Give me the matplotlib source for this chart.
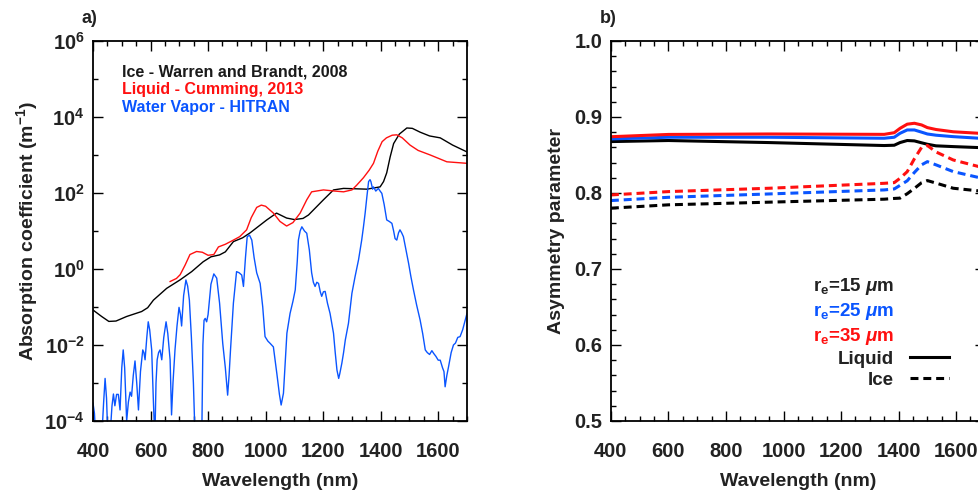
import numpy as np
import matplotlib
matplotlib.use('Agg')
import matplotlib.pyplot as plt
from matplotlib.lines import Line2D
from matplotlib.ticker import MultipleLocator, FixedLocator, FuncFormatter, NullFormatter

plt.rcParams['font.family'] = ['Liberation Sans', 'DejaVu Sans']
plt.rcParams['font.weight'] = 'bold'
plt.rcParams['axes.labelweight'] = 'bold'
plt.rcParams['mathtext.fontset'] = 'custom'
plt.rcParams['mathtext.rm'] = 'Liberation Sans:bold'
plt.rcParams['mathtext.bf'] = 'Liberation Sans:bold'
plt.rcParams['mathtext.it'] = 'Liberation Sans:italic'
plt.rcParams['mathtext.default'] = 'rm'

# ---- panel a: absorption coefficient (values are log10 of m^-1) ----
ice_wl = [400, 430, 455, 480, 517, 545, 569, 590, 610, 656, 702, 743, 783, 810,
          840, 860, 888, 920, 946, 1004, 1038, 1073, 1100, 1130, 1149, 1201,
          1236, 1271, 1352, 1398, 1410, 1421, 1433, 1445, 1465, 1491, 1510,
          1537, 1570, 1607, 1650, 1700]
ice_log = [-1.08, -1.25, -1.38, -1.37, -1.25, -1.18, -1.12, -1.02, -0.82, -0.51,
           -0.29, -0.07, 0.19, 0.32, 0.37, 0.45, 0.72, 0.82, 0.95, 1.29, 1.47,
           1.34, 1.30, 1.33, 1.42, 1.82, 2.08, 2.12, 2.10, 2.16, 2.30, 2.53,
           2.95, 3.30, 3.55, 3.71, 3.70, 3.60, 3.50, 3.45, 3.26, 3.08]

liq_wl = [668, 690, 703, 720, 737, 760, 780, 800, 820, 836, 860, 888, 910, 934,
          950, 969, 985, 1000, 1027, 1050, 1073, 1095, 1120, 1143, 1160, 1201,
          1240, 1271, 1300, 1316, 1340, 1360, 1375, 1390, 1405, 1420, 1440,
          1456, 1475, 1502, 1530, 1572, 1630, 1700]
liq_log = [-0.33, -0.25, -0.15, 0.10, 0.38, 0.46, 0.44, 0.36, 0.38, 0.58, 0.65,
           0.76, 0.85, 1.03, 1.35, 1.62, 1.68, 1.65, 1.47, 1.25, 1.13, 1.22,
           1.47, 1.82, 2.03, 2.08, 2.05, 2.03, 2.08, 2.20, 2.40, 2.60, 2.78,
           3.10, 3.35, 3.45, 3.52, 3.53, 3.45, 3.26, 3.12, 3.00, 2.82, 2.78]

vap_wl = [400, 405, 410, 430, 437, 442, 447, 451, 460, 466, 471, 476, 482, 488,
          494, 500, 505, 510, 517, 523, 529, 534, 540, 546, 552, 558, 565, 573,
          577, 581, 587, 592, 597, 604, 610, 615, 619, 623, 628, 633, 639, 646,
          654, 660, 668, 673, 678, 685, 692, 699, 704, 708, 715, 723, 729, 735,
          742, 749, 755, 778, 782, 786, 790, 795, 800, 810, 820, 830, 840, 851,
          860, 868, 873, 878, 888, 899, 908, 917, 923, 930, 936, 944, 952, 960,
          969, 981, 990, 998, 1008, 1016, 1027, 1039, 1048, 1054, 1062, 1068,
          1074, 1085, 1095, 1103, 1110, 1114, 1120, 1126, 1135, 1143, 1152,
          1160, 1166, 1172, 1178, 1184, 1190, 1195, 1201, 1207, 1215, 1224,
          1236, 1242, 1248, 1254, 1258, 1265, 1271, 1277, 1288, 1300, 1311,
          1323, 1334, 1340, 1346, 1352, 1358, 1363, 1366, 1372, 1375, 1383,
          1392, 1398, 1404, 1412, 1421, 1430, 1439, 1445, 1450, 1456, 1462,
          1467, 1473, 1479, 1488, 1497, 1505, 1514, 1525, 1537, 1546, 1555,
          1562, 1570, 1578, 1584, 1592, 1600, 1607, 1615, 1620, 1624, 1630,
          1636, 1645, 1653, 1660, 1668, 1676, 1685, 1692, 1700]
vap_log = [-3.53, -3.8, -4.5, -4.5, -3.5, -2.88, -3.4, -4.3, -4.3, -3.6, -3.29,
           -3.6, -3.3, -3.3, -3.71, -2.6, -2.13, -2.6, -4.0, -3.5, -3.24, -3.35,
           -2.8, -2.42, -3.0, -3.71, -2.7, -2.13, -2.2, -2.39, -1.8, -1.39,
           -1.6, -2.13, -3.5, -4.5, -3.0, -2.39, -2.2, -2.13, -2.39, -1.8,
           -1.39, -1.7, -2.39, -3.84, -3.0, -2.13, -1.5, -1.01, -1.2, -1.5,
           -0.7, -0.29, -0.45, -0.82, -1.8, -3.0, -4.5, -4.5, -2.0, -1.35,
           -1.3, -1.39, -1.2, -0.4, -0.13, -0.24, -0.9, -1.96, -2.6, -3.32,
           -2.8, -2.13, -0.9, -0.07, -0.1, -0.16, -0.46, 0.3, 0.85, 0.89, 0.76,
           0.3, -0.1, -0.38, -1.0, -1.78, -1.9, -1.96, -2.05, -2.75, -3.3,
           -3.58, -3.27, -2.5, -1.69, -1.17, -0.85, -0.55, 0.2, 0.76, 1.0,
           1.11, 1.0, 0.94, 0.5, -0.1, -0.35, -0.46, -0.35, -0.38, -0.6, -0.72,
           -0.6, -0.59, -0.9, -1.17, -1.69, -2.2, -2.66, -2.88, -2.75, -2.48,
           -2.2, -1.87, -1.43, -0.64, -0.2, 0.24, 0.76, 1.1, 1.47, 1.9, 2.3,
           2.35, 2.3, 2.1, 2.16, 2.05, 2.12, 2.05, 1.99, 1.7, 1.29, 1.25, 1.2,
           1.0, 0.8, 0.76, 0.95, 1.03, 0.95, 0.85, 0.5, 0.15, -0.2, -0.55,
           -0.95, -1.34, -1.7, -2.13, -2.2, -2.25, -2.15, -2.22, -2.3, -2.4,
           -2.4, -2.6, -2.7, -3.1, -2.8, -2.57, -2.2, -2.0, -1.95, -1.8, -1.78,
           -1.6, -1.4, -1.17]

# ---- panel b: asymmetry parameter ----
asym_wl = [400, 600, 950, 1350, 1385, 1405, 1430, 1455, 1480, 1500, 1530, 1590,
           1680, 1700]
liq15 = [0.8676, 0.8690, 0.8663, 0.8624, 0.8628, 0.8663, 0.8690, 0.8685,
         0.8660, 0.8641, 0.8620, 0.8610, 0.8597, 0.8594]
liq25 = [0.8711, 0.8733, 0.8733, 0.8720, 0.8733, 0.8785, 0.8829, 0.8829,
         0.8800, 0.8776, 0.8760, 0.8741, 0.8720, 0.8715]
liq35 = [0.8740, 0.8770, 0.8776, 0.8771, 0.8793, 0.8850, 0.8905, 0.8917,
         0.8895, 0.8860, 0.8835, 0.8805, 0.8785, 0.8780]
ice15 = [0.7800, 0.7844, 0.7879, 0.7918, 0.7928, 0.7932, 0.7990, 0.8060,
         0.8135, 0.8163, 0.8130, 0.8062, 0.8027, 0.8020]
ice25 = [0.7900, 0.7943, 0.7987, 0.8040, 0.8053, 0.8100, 0.8160, 0.8270,
         0.8370, 0.8412, 0.8370, 0.8281, 0.8202, 0.8185]
ice35 = [0.7974, 0.8018, 0.8062, 0.8127, 0.8136, 0.8193, 0.8280, 0.8450,
         0.8600, 0.8625, 0.8540, 0.8434, 0.8346, 0.8330]

re_labels = [r'r$_\mathrm{e}$=15 $\mathit{\mu}$m', r'r$_\mathrm{e}$=25 $\mathit{\mu}$m',
             r'r$_\mathrm{e}$=35 $\mathit{\mu}$m']

BLACK = '#000000'
RED = '#ff1010'
BLUE = '#0a55ff'
TXT = '#222222'

fig = plt.figure(figsize=(9.79, 4.91), dpi=100)
ax1 = fig.add_axes([0.095, 0.1426, 0.382, 0.774])
ax2 = fig.add_axes([0.624, 0.1426, 0.382, 0.774])


def style_axis(ax):
    for s in ax.spines.values():
        s.set_linewidth(1.3)
    ax.tick_params(which='both', direction='in', top=True, right=True,
                   width=1.0, labelsize=14.5, labelcolor=TXT)
    ax.tick_params(axis='x', which='both', pad=15)
    ax.tick_params(axis='y', which='both', pad=6)
    ax.tick_params(which='major', length=7)
    ax.tick_params(which='minor', length=3.5)
    ax.set_xlim(400, 1700)
    ax.xaxis.set_major_locator(FixedLocator([400, 600, 800, 1000, 1200, 1400, 1600]))
    ax.xaxis.set_minor_locator(MultipleLocator(50))
    ax.set_xlabel('Wavelength (nm)', fontsize=14, color=TXT, labelpad=9)


# panel a
ax1.plot(ice_wl, 10.0 ** np.array(ice_log), color=BLACK, lw=1.0)
ax1.plot(liq_wl, 10.0 ** np.array(liq_log), color=RED, lw=1.0)
ax1.plot(vap_wl, 10.0 ** np.array(vap_log), color=BLUE, lw=1.0)
ax1.set_yscale('log')
ax1.set_ylim(1e-4, 1e6)
style_axis(ax1)
ax1.yaxis.set_major_locator(FixedLocator([1e-4, 1e-2, 1e0, 1e2, 1e4, 1e6]))
ax1.yaxis.set_minor_locator(FixedLocator([1e-3, 1e-1, 1e1, 1e3, 1e5]))
ax1.yaxis.set_minor_formatter(NullFormatter())
ax1.yaxis.set_major_formatter(FuncFormatter(lambda v, p: r'$\mathrm{10^{%d}}$' % round(np.log10(v))))
ax1.set_ylabel(r'Absorption coefficient (m$^{\mathrm{-1}}$)', fontsize=14, color=TXT, labelpad=3)
ax1.text(0.078, 0.918, 'Ice - Warren and Brandt, 2008', transform=ax1.transAxes,
         color='#1a1a1a', fontsize=11.5, va='center')
ax1.text(0.078, 0.871, 'Liquid - Cumming, 2013', transform=ax1.transAxes,
         color=RED, fontsize=11.5, va='center')
ax1.text(0.078, 0.824, 'Water Vapor - HITRAN', transform=ax1.transAxes,
         color=BLUE, fontsize=11.5, va='center')
ax1.text(-0.03, 1.06, 'a)', transform=ax1.transAxes, fontsize=13, color=TXT,
         ha='left', va='center')

# panel b
dash = (2.6, 1.6)
ax2.plot(asym_wl, liq15, color=BLACK, lw=2.2)
ax2.plot(asym_wl, liq25, color=BLUE, lw=2.2)
ax2.plot(asym_wl, liq35, color=RED, lw=2.2)
ax2.plot(asym_wl, ice15, color=BLACK, lw=2.2, dashes=dash)
ax2.plot(asym_wl, ice25, color=BLUE, lw=2.2, dashes=dash)
ax2.plot(asym_wl, ice35, color=RED, lw=2.2, dashes=dash)
ax2.set_ylim(0.5, 1.0)
style_axis(ax2)
ax2.yaxis.set_major_locator(MultipleLocator(0.1))
ax2.yaxis.set_minor_locator(MultipleLocator(0.02))
ax2.yaxis.set_major_formatter(FuncFormatter(lambda v, p: '%.1f' % v))
ax2.set_ylabel('Asymmetry parameter', fontsize=14, color=TXT, labelpad=7)
ax2.text(-0.03, 1.06, 'b)', transform=ax2.transAxes, fontsize=13, color=TXT,
         ha='left', va='center')

handles = [Line2D([], [], ls='none') for _ in re_labels]
handles += [Line2D([], [], color=BLACK, lw=2.2),
            Line2D([], [], color=BLACK, lw=2.2, dashes=dash)]
labels = re_labels + ['Liquid', 'Ice']
ax2.legend(handles, labels, loc='lower right', bbox_to_anchor=(0.905, 0.085),
           frameon=False, markerfirst=False, fontsize=13.5, handlelength=2.1,
           handletextpad=0.85, labelspacing=0.2, borderpad=0, borderaxespad=0,
           labelcolor=[TXT, BLUE, RED, TXT, TXT])

fig.savefig('out.png', dpi=100)
